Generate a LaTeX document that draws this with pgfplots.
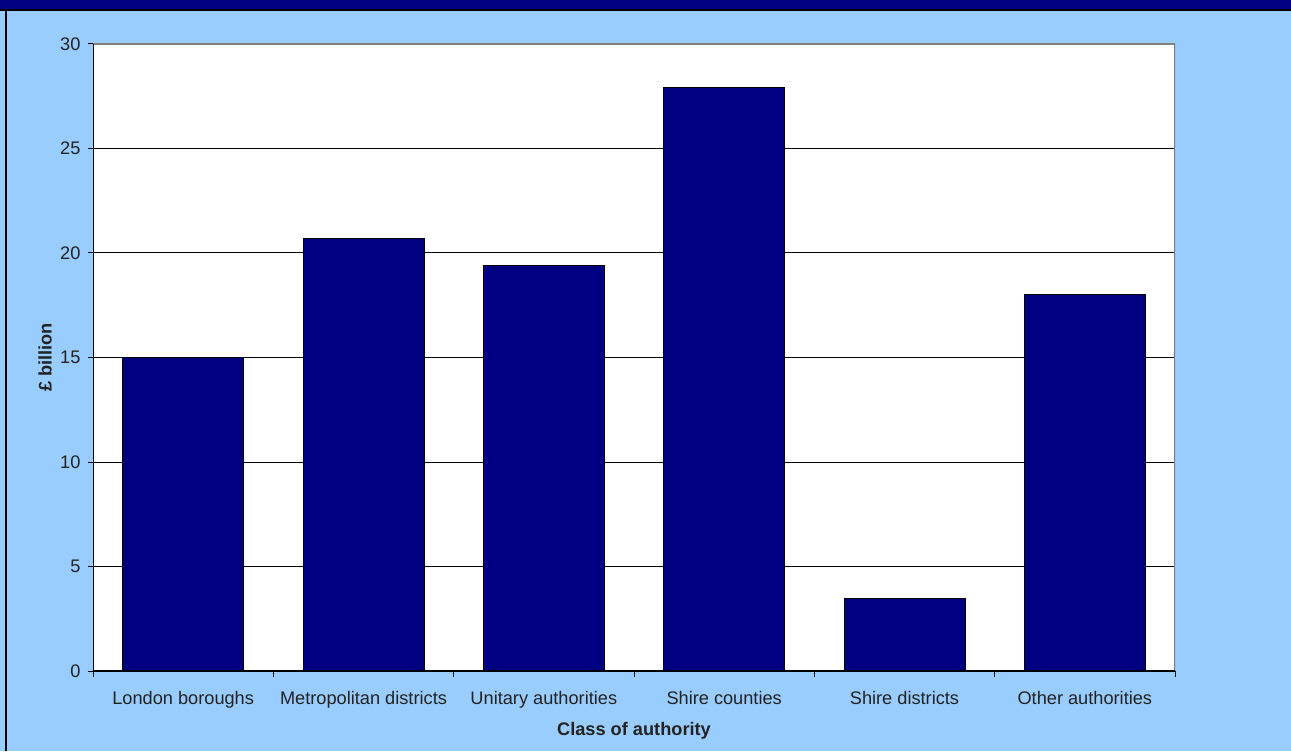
\documentclass[border=0pt]{standalone}
\usepackage{fontspec}
\setmainfont{Liberation Sans}
\usepackage{pgfplots}
\pgfplotsset{compat=1.18}
\definecolor{bgblue}{RGB}{153,204,255}
\definecolor{navy}{RGB}{0,0,128}
\definecolor{txt}{RGB}{34,34,34}
\begin{document}
\begin{tikzpicture}[x=0.5pt,y=0.5pt]
\useasboundingbox (0,0) rectangle (1291,751);
\fill[bgblue] (0,0) rectangle (1291,751);
\fill[navy] (0,741.5) rectangle (1291,751);
\fill[black] (0,739.5) rectangle (1291,741.5);
\fill[black] (5,0) rectangle (7,741);
\begin{axis}[
  at={(46.5pt,40pt)}, anchor=south west,
  scale only axis, width=541pt, height=313.5pt,
  xmin=-0.5, xmax=5.5, ymin=0, ymax=30,
  axis background/.style={fill=white},
  axis line style={draw=none},
  xtick pos=bottom, ytick pos=left,
  ytick={0,5,...,30},
  xtick={-0.5,0.5,1.5,2.5,3.5,4.5,5.5},
  xticklabels={},
  extra x ticks={0,1,2,3,4,5},
  extra x tick labels={London boroughs, Metropolitan districts, Unitary authorities, Shire counties, Shire districts, Other authorities},
  extra x tick style={major tick length=0pt, xticklabel style={yshift=-6.5pt}},
  tick align=outside,
  major tick length=2.75pt,
  tick style={black, line width=0.5pt},
  ymajorgrids,
  grid style={black, line width=0.5pt},
  /pgf/number format/assume math mode=true,
  every tick label/.append style={font=\fontsize{9.1}{11}\selectfont, text=txt},
  xlabel={Class of authority},
  ylabel={£ billion},
  every axis x label/.style={at={(rel axis cs:0.5,0)}, yshift=-30pt, anchor=center, font=\fontsize{9.1}{11}\selectfont\bfseries, text=txt},
  every axis y label/.style={at={(rel axis cs:0,0.5)}, xshift=-24pt, rotate=90, anchor=center, font=\fontsize{9.1}{11}\selectfont\bfseries, text=txt},
]
\addplot[ybar, bar width=60.5pt, fill=navy, draw=black, line width=0.5pt]
  coordinates {(0,15.0) (1,20.7) (2,19.4) (3,27.9) (4,3.45) (5,18.0)};
\draw[black!50, line width=1pt] (rel axis cs:0,1) -- (rel axis cs:1,1) -- (rel axis cs:1,0);
\draw[black, line width=0.6pt] (rel axis cs:0,1) -- (rel axis cs:0,0) -- (rel axis cs:1,0);
\end{axis}
\end{tikzpicture}
\end{document}
